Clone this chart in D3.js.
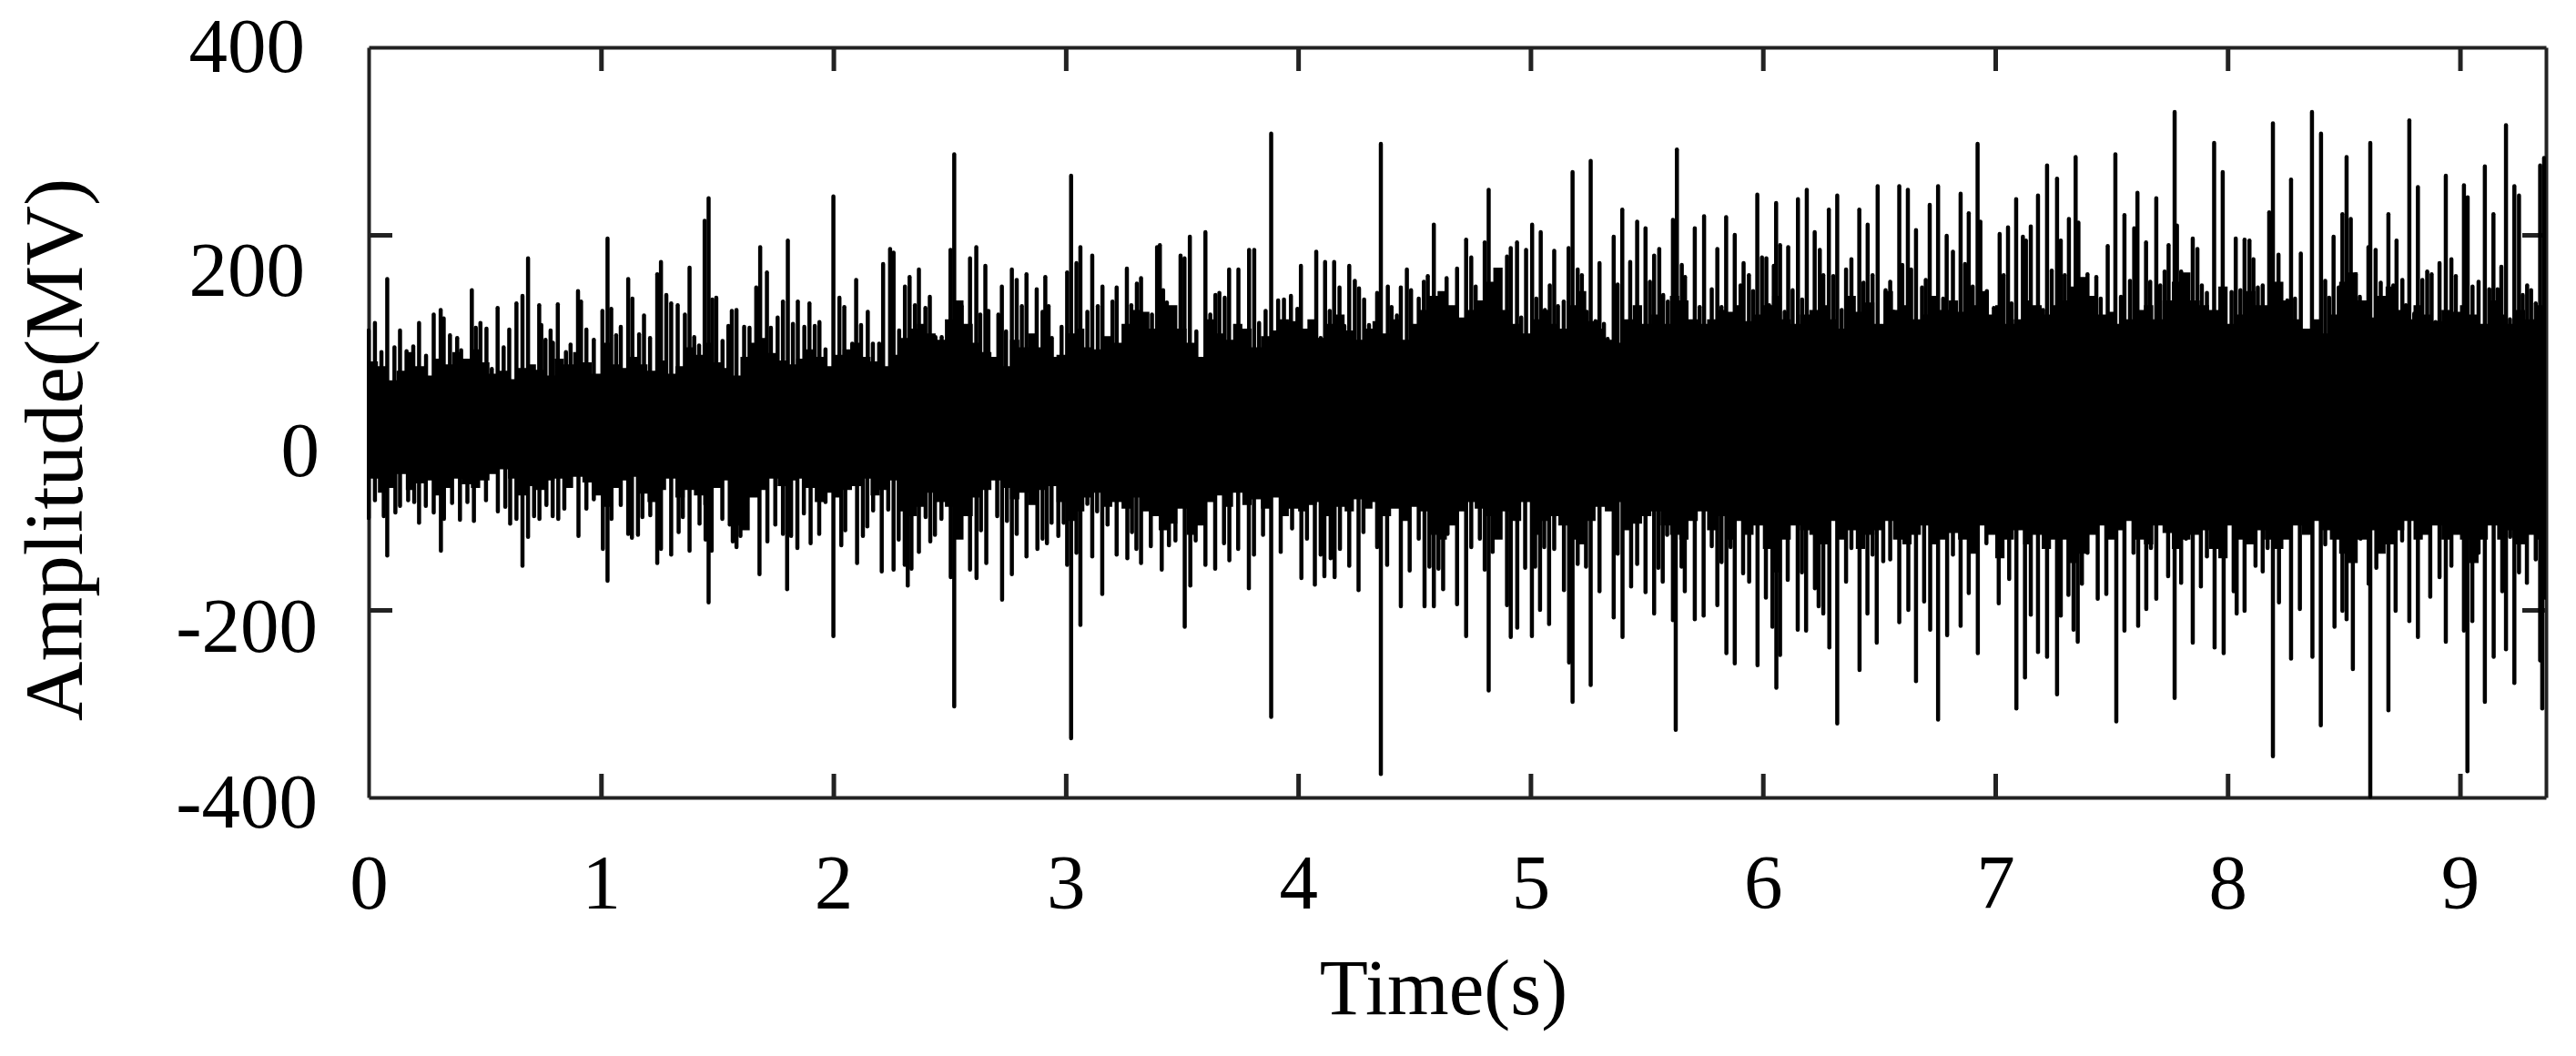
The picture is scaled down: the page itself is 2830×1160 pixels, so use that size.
<!DOCTYPE html>
<html>
<head>
<meta charset="utf-8">
<script src="https://cdn.jsdelivr.net/npm/d3@7/dist/d3.min.js"></script>
<style>
html,body{margin:0;padding:0;background:#fff;}
svg{display:block;}
text{font-family:"Liberation Serif",serif;fill:#000;}
</style>
</head>
<body>
<svg id="chart" width="2830" height="1160"></svg>
<script>
const xTicks = [0,1,2,3,4,5,6,7,8,9];
const yTicks = [400,200,0,-200,-400];
const xTitle = "Time(s)";
const yTitle = "Amplitude(MV)";
const timeMax = 9.37;

// Solid band of the signal, one reading every 0.04 s, one row per second
const bandStep = 0.04;
const bandTop = [
65,60,45,55,75,60,50,68,62,75,68,78,64,52,55,46,58,62,56,50,68,62,75,64,52,
85,62,58,70,62,55,66,52,60,80,72,85,64,58,50,70,85,90,74,66,62,68,78,70,60,
72,78,85,70,65,60,72,90,100,105,95,88,110,130,105,85,75,70,60,88,80,95,80,70,72,
95,100,80,78,92,85,105,120,118,100,115,125,100,85,70,110,95,88,105,100,80,92,98,110,108,
100,110,90,105,115,98,88,100,108,95,110,88,105,120,135,140,125,112,120,130,150,165,120,105,95,
110,120,105,100,125,140,108,100,88,85,110,125,105,115,105,135,130,110,105,110,120,118,125,108,115,
125,135,110,105,115,120,125,110,100,135,118,128,105,140,120,125,110,115,135,120,130,118,125,140,115,
125,105,110,130,125,115,125,130,145,155,135,115,118,105,110,120,125,110,130,150,160,130,125,120,145,
105,115,140,125,125,150,130,110,100,110,95,115,150,160,130,112,135,145,120,110,125,115,108,120,118,
125,115,105,130,115,105,120,110,125,135,135];
const bandBottom = [
-60,-75,-70,-55,-72,-65,-62,-78,-70,-60,-66,-70,-62,-55,-50,-60,-78,-68,-72,-62,-60,-70,-58,-64,-78,
-90,-70,-62,-58,-76,-85,-72,-60,-80,-72,-78,-88,-70,-62,-110,-115,-80,-72,-60,-68,-62,-60,-70,-85,-75,
-80,-72,-68,-60,-78,-72,-62,-95,-100,-90,-75,-85,-90,-125,-100,-80,-72,-62,-70,-82,-75,-88,-72,-68,-85,
-105,-95,-80,-75,-90,-85,-92,-80,-95,-100,-115,-108,-92,-120,-110,-85,-78,-90,-75,-88,-82,-92,-80,-100,-92,
-95,-88,-85,-100,-90,-95,-82,-92,-85,-100,-92,-105,-90,-95,-120,-125,-110,-95,-85,-92,-100,-125,-95,-105,-85,
-120,-105,-100,-110,-125,-130,-105,-90,-95,-85,-115,-108,-100,-95,-110,-120,-125,-105,-95,-115,-100,-125,-105,-120,-110,
-135,-160,-125,-110,-115,-120,-130,-105,-125,-115,-135,-120,-115,-105,-125,-130,-120,-110,-130,-125,-118,-125,-140,-110,-120,
-145,-125,-115,-130,-120,-135,-125,-125,-150,-140,-120,-110,-125,-115,-105,-125,-130,-110,-118,-135,-125,-120,-115,-135,-145,
-110,-125,-130,-115,-125,-135,-125,-110,-120,-105,-115,-125,-140,-150,-125,-115,-140,-130,-115,-105,-125,-120,-110,-125,-120,
-125,-150,-125,-110,-125,-115,-130,-120,-125,-115,-115];

// Positive peaks: [time, amplitude]
const upperPeaks = [
[0,98],[.027,106],[.055,75],[.08,153],[.111,80],[.135,98],[.163,76],[.192,81],[.217,106],[.247,71],[.28,115],[.31,120],[.323,111],[.35,93],[.381,90],[.398,77],[.444,141],[.461,101],[.481,106],[.507,100],[.53,57],[.555,122],[.581,80],[.605,99],[.636,127],[.662,135],[.686,175],[.734,125],[.743,104],[.761,88],[.783,98],[.793,85],[.814,126],[.849,75],[.869,83],[.901,140],[.914,129],[.937,99],[.969,88],[1.006,119],[1.028,196],[1.044,121],[1.065,93],[1.085,102],[1.117,153],[1.135,132],[1.164,94],[1.185,114],[1.211,90],[1.242,158],[1.258,171],[1.281,136],[1.302,127],[1.33,125],[1.361,115],[1.381,165],[1.401,91],[1.422,82],[1.446,215],[1.463,239],[1.479,131],[1.496,133],[1.523,87],[1.548,103],[1.563,119],[1.583,120],[1.616,102],
[1.639,101],[1.668,144],[1.685,187],[1.714,160],[1.731,101],[1.76,112],[1.783,129],[1.804,194],[1.826,105],[1.847,129],[1.875,102],[1.897,127],[1.92,103],[1.94,107],[1.966,78],[2,241],[2.026,133],[2.047,123],[2.081,84],[2.098,152],[2.119,104],[2.148,118],[2.17,84],[2.197,84],[2.214,169],[2.244,185],[2.259,181],[2.283,98],[2.308,145],[2.328,155],[2.351,125],[2.368,163],[2.396,122],[2.415,134],[2.439,91],[2.466,91],[2.504,184],[2.52,286],[2.552,124],[2.588,175],[2.615,187],[2.632,115],[2.654,167],[2.667,119],[2.687,65],[2.71,115],[2.725,145],[2.743,97],[2.768,163],[2.789,152],[2.811,124],[2.831,158],[2.854,70],[2.875,142],[2.9,118],[2.912,155],[2.926,124],[2.94,90],[2.982,102],[3.006,160],[3.023,263],[3.046,170],[3.063,187],[3.093,118],[3.114,178],[3.138,124],[3.158,145],[3.191,83],
[3.201,129],[3.219,144],[3.263,164],[3.282,125],[3.306,148],[3.324,154],[3.348,107],[3.371,115],[3.393,187],[3.405,189],[3.419,141],[3.435,128],[3.468,104],[3.494,178],[3.511,175],[3.534,198],[3.562,97],[3.601,203],[3.622,115],[3.644,136],[3.661,138],[3.684,133],[3.703,163],[3.743,163],[3.789,184],[3.811,184],[3.832,106],[3.86,119],[3.884,308],[3.914,130],[3.939,131],[3.969,135],[3.997,121],[4.012,167],[4.04,97],[4.078,182],[4.097,90],[4.116,171],[4.136,119],[4.155,171],[4.178,144],[4.199,103],[4.22,167],[4.244,151],[4.262,143],[4.284,131],[4.305,104],[4.319,90],[4.34,138],[4.356,297],[4.386,145],[4.402,123],[4.425,114],[4.442,144],[4.468,163],[4.486,141],[4.519,132],[4.541,150],[4.558,156],[4.584,211],[4.604,132],[4.617,123],[4.639,154],[4.663,111],[4.684,164],[4.723,195],[4.745,176],
[4.764,145],[4.782,118],[4.803,192],[4.82,248],[4.837,131],[4.85,128],[4.867,110],[4.899,177],[4.915,186],[4.942,192],[4.96,112],[4.981,184],[5.007,211],[5.025,132],[5.044,203],[5.062,120],[5.083,146],[5.102,183],[5.118,124],[5.143,129],[5.164,186],[5.181,267],[5.203,163],[5.221,157],[5.242,118],[5.259,279],[5.28,108],[5.297,170],[5.316,105],[5.332,89],[5.358,198],[5.375,147],[5.395,227],[5.429,171],[5.459,214],[5.495,207],[5.514,150],[5.532,178],[5.554,185],[5.571,136],[5.591,129],[5.613,216],[5.63,291],[5.651,168],[5.665,155],[5.689,102],[5.707,207],[5.728,123],[5.747,220],[5.78,142],[5.804,185],[5.822,123],[5.842,219],[5.861,103],[5.879,200],[5.904,146],[5.917,170],[5.94,157],[5.958,140],[5.976,243],[5.996,176],[6.015,175],[6.027,125],[6.047,167],[6.057,234],[6.074,189],[6.094,118],[6.109,187],[6.128,141],[6.151,238],[6.169,131],[6.189,248],[6.223,203],[6.245,184],[6.26,157],[6.284,227],[6.303,156],[6.32,242],
[6.339,120],[6.358,163],[6.381,174],[6.415,227],[6.433,149],[6.451,211],[6.472,157],[6.494,252],[6.528,141],[6.548,150],[6.563,118],[6.587,252],[6.6,168],[6.624,248],[6.638,163],[6.659,205],[6.685,144],[6.701,152],[6.718,232],[6.733,127],[6.754,252],[6.776,132],[6.791,199],[6.818,182],[6.851,244],[6.87,169],[6.886,223],[6.903,145],[6.924,297],[6.936,214],[6.964,140],[6.994,122],[7.019,201],[7.036,157],[7.055,208],[7.07,127],[7.09,238],[7.119,198],[7.132,194],[7.153,209],[7.184,242],[7.206,120],[7.223,274],[7.243,162],[7.266,260],[7.282,194],[7.299,157],[7.317,217],[7.346,283],[7.358,213],[7.373,151],[7.397,158],[7.435,155],[7.454,132],[7.484,188],[7.517,286],[7.541,134],[7.556,221],[7.58,151],[7.598,207],[7.612,245],[7.649,192],[7.667,150],[7.693,239],[7.71,146],[7.729,161],[7.746,189],[7.772,331],[7.782,210],[7.8,161],[7.817,128],[7.85,196],[7.87,185],[7.889,146],
[7.911,138],[7.942,298],[7.965,113],[7.979,267],[8,98],[8.017,139],[8.035,196],[8.055,141],[8.073,195],[8.094,194],[8.111,174],[8.13,144],[8.151,146],[8.179,224],[8.195,319],[8.219,179],[8.241,117],[8.257,130],[8.273,259],[8.29,132],[8.315,180],[8.342,96],[8.363,331],[8.381,96],[8.402,308],[8.42,151],[8.437,133],[8.456,198],[8.478,144],[8.494,222],[8.512,283],[8.53,217],[8.551,158],[8.569,134],[8.582,126],[8.606,187],[8.614,298],[8.637,184],[8.659,149],[8.692,222],[8.713,146],[8.727,194],[8.752,152],[8.767,125],[8.782,322],[8.803,116],[8.819,251],[8.838,152],[8.859,161],[8.878,158],[8.895,107],[8.912,170],[8.939,263],[8.963,174],[8.982,156],[9.017,253],[9.033,240],[9.054,145],[9.08,150],[9.107,273],[9.126,142],[9.144,222],[9.162,142],[9.178,166],[9.198,317],[9.215,110],[9.234,252],[9.254,242],[9.27,136],[9.289,146],[9.306,141],[9.326,127],[9.345,274],[9.362,282]
];

// Negative peaks: [time, amplitude]
const lowerPeaks = [
[0,-102],[.027,-83],[.065,-100],[.08,-142],[.115,-96],[.135,-89],[.17,-83],[.196,-85],[.217,-107],[.246,-89],[.28,-96],[.311,-137],[.324,-103],[.359,-86],[.393,-104],[.425,-85],[.453,-105],[.505,-83],[.556,-95],[.588,-90],[.609,-108],[.636,-103],[.662,-153],[.686,-122],[.712,-100],[.735,-103],[.765,-88],[.792,-100],[.816,-103],[.842,-92],[.903,-121],[.937,-92],[.969,-82],[1.008,-135],[1.028,-169],[1.045,-103],[1.085,-88],[1.117,-119],[1.133,-123],[1.159,-120],[1.178,-101],[1.212,-99],[1.242,-150],[1.258,-135],[1.302,-141],[1.334,-117],[1.352,-101],[1.381,-137],[1.424,-108],[1.45,-125],[1.463,-192],[1.476,-137],[1.522,-103],[1.554,-109],[1.567,-127],[1.583,-133],[1.6,-121],
[1.629,-82],[1.682,-162],[1.716,-127],[1.75,-109],[1.783,-119],[1.801,-178],[1.818,-121],[1.845,-134],[1.873,-97],[1.902,-129],[1.939,-119],[1.966,-85],[2,-228],[2.034,-131],[2.051,-115],[2.102,-150],[2.127,-121],[2.146,-111],[2.171,-94],[2.208,-159],[2.236,-93],[2.259,-157],[2.281,-125],[2.307,-152],[2.32,-174],[2.336,-156],[2.368,-138],[2.397,-101],[2.417,-127],[2.437,-120],[2.465,-103],[2.505,-165],[2.52,-303],[2.541,-119],[2.588,-157],[2.616,-166],[2.635,-115],[2.658,-150],[2.705,-100],[2.726,-189],[2.747,-105],[2.768,-162],[2.789,-119],[2.831,-143],[2.878,-135],[2.9,-124],[2.919,-129],[2.939,-107],[2.968,-121],[2.991,-107],[3.006,-152],[3.023,-337],[3.046,-139],[3.063,-216],[3.093,-87],[3.114,-143],[3.135,-95],[3.157,-183],[3.18,-109],
[3.219,-141],[3.265,-145],[3.285,-117],[3.304,-135],[3.324,-150],[3.366,-132],[3.413,-157],[3.444,-131],[3.472,-126],[3.512,-218],[3.536,-174],[3.559,-126],[3.601,-152],[3.643,-156],[3.681,-129],[3.704,-147],[3.742,-135],[3.788,-177],[3.81,-141],[3.849,-120],[3.884,-314],[3.925,-138],[3.974,-113],[4.014,-166],[4.038,-124],[4.072,-173],[4.097,-141],[4.113,-164],[4.14,-145],[4.157,-165],[4.18,-135],[4.22,-153],[4.26,-179],[4.281,-117],[4.34,-133],[4.356,-375],[4.383,-152],[4.442,-196],[4.48,-158],[4.519,-124],[4.544,-196],[4.565,-154],[4.584,-196],[4.604,-156],[4.624,-178],[4.643,-119],[4.684,-194],[4.723,-228],[4.745,-133],
[4.782,-124],[4.803,-157],[4.82,-286],[4.837,-138],[4.862,-115],[4.899,-195],[4.915,-229],[4.943,-219],[4.977,-155],[5.006,-228],[5.02,-154],[5.041,-200],[5.059,-133],[5.08,-215],[5.102,-135],[5.144,-179],[5.166,-256],[5.181,-298],[5.203,-151],[5.239,-154],[5.259,-280],[5.297,-180],[5.358,-208],[5.375,-140],[5.396,-229],[5.433,-175],[5.459,-151],[5.495,-181],[5.532,-204],[5.55,-155],[5.569,-170],[5.588,-120],[5.613,-211],[5.625,-328],[5.65,-154],[5.664,-180],[5.707,-210],[5.745,-206],[5.78,-132],[5.804,-195],[5.822,-149],[5.843,-246],[5.861,-133],[5.879,-257],[5.915,-161],[5.941,-170],[5.977,-259],[6.013,-187],[6.041,-218],[6.058,-283],[6.074,-248],[6.107,-168],[6.15,-221],[6.168,-160],[6.186,-222],[6.224,-177],[6.24,-196],[6.26,-204],[6.286,-240],[6.32,-321],
[6.358,-170],[6.381,-134],[6.416,-264],[6.45,-204],[6.472,-141],[6.49,-235],[6.518,-148],[6.548,-146],[6.587,-213],[6.626,-200],[6.659,-276],[6.694,-191],[6.72,-221],[6.754,-317],[6.793,-227],[6.818,-141],[6.851,-217],[6.886,-182],[6.925,-246],[6.962,-129],[7.015,-193],[7.06,-167],[7.091,-305],[7.128,-272],[7.153,-205],[7.184,-245],[7.223,-250],[7.266,-290],[7.282,-206],[7.315,-184],[7.337,-221],[7.355,-234],[7.373,-172],[7.397,-139],[7.441,-188],[7.478,-183],[7.521,-319],[7.556,-222],[7.595,-139],[7.615,-217],[7.65,-199],[7.67,-134],[7.693,-188],[7.744,-164],[7.772,-294],[7.8,-171],[7.821,-124],[7.85,-235],[7.885,-175],
[7.911,-143],[7.944,-240],[7.983,-246],[8.026,-180],[8.039,-204],[8.073,-201],[8.091,-126],[8.12,-153],[8.151,-159],[8.172,-134],[8.195,-356],[8.221,-192],[8.273,-252],[8.311,-199],[8.365,-250],[8.401,-323],[8.42,-130],[8.46,-218],[8.494,-201],[8.512,-210],[8.539,-263],[8.572,-124],[8.607,-172],[8.614,-399],[8.64,-155],[8.692,-307],[8.723,-201],[8.751,-126],[8.782,-212],[8.819,-229],[8.872,-186],[8.912,-165],[8.939,-234],[8.963,-153],[9.017,-222],[9.032,-372],[9.053,-212],[9.08,-139],[9.107,-298],[9.145,-250],[9.182,-180],[9.198,-242],[9.216,-122],[9.234,-278],[9.254,-160],[9.288,-171],[9.326,-146],[9.345,-254],[9.354,-305],[9.367,-187]
];

const svg = d3.select("#chart");
const plot = {left:405, right:2797, top:52, bottom:876};
const ink = "#222";
const x = d3.scaleLinear().domain([0,timeMax]).range([plot.left,plot.right]);
const y = d3.scaleLinear().domain([-400,400]).range([plot.bottom,plot.top]);
const fontSize = 85;

// Frame and inward ticks
function styleAxis(g){
  g.selectAll("path.domain").attr("stroke",ink).attr("stroke-width",4);
  g.selectAll(".tick line").attr("stroke",ink).attr("stroke-width",5);
}
const bottomAxis = svg.append("g").attr("transform",`translate(0,${plot.bottom})`)
  .call(d3.axisBottom(x).tickValues(xTicks).tickSize(-26).tickSizeOuter(0).tickPadding(0).tickFormat(d3.format("d")));
const topAxis = svg.append("g").attr("transform",`translate(0,${plot.top})`)
  .call(d3.axisTop(x).tickValues(xTicks.slice(1)).tickSize(-26).tickSizeOuter(0).tickFormat(""));
const leftAxis = svg.append("g").attr("transform",`translate(${plot.left},0)`)
  .call(d3.axisLeft(y).tickValues(yTicks.slice(1,4)).tickSize(-26).tickSizeOuter(0).tickFormat(""));
const rightAxis = svg.append("g").attr("transform",`translate(${plot.right},0)`)
  .call(d3.axisRight(y).tickValues(yTicks.slice(1,4)).tickSize(-26).tickSizeOuter(0).tickFormat(""));
[bottomAxis,topAxis,leftAxis,rightAxis].forEach(styleAxis);
bottomAxis.selectAll(".tick").filter(d => d===0).select("line").remove();

// Tick labels
bottomAxis.selectAll(".tick text")
  .attr("font-size",fontSize).attr("text-anchor","middle")
  .attr("dy",null).attr("y",998-plot.bottom);

const yLabelRight = {"400":335,"200":335,"0":351,"-200":349,"-400":349};
const yLabelBase = {"400":79,"200":325,"0":523,"-200":716,"-400":909};
svg.append("g").selectAll("text").data(yTicks).join("text")
  .attr("x",d => yLabelRight[d]).attr("y",d => yLabelBase[d])
  .attr("text-anchor","end").attr("font-size",fontSize).text(d => d);

// Titles
svg.append("text").attr("x",1586).attr("y",1114).attr("text-anchor","middle")
  .attr("font-size",87).text(xTitle);
svg.append("text").attr("transform","translate(90,494) rotate(-90)").attr("text-anchor","middle")
  .attr("font-size",91).text(yTitle);

// Signal
const clipId = "plot-clip";
svg.append("clipPath").attr("id",clipId).append("rect")
  .attr("x",plot.left-2).attr("y",plot.top).attr("width",plot.right-plot.left+2).attr("height",plot.bottom-plot.top+2);
const signal = svg.append("g").attr("clip-path",`url(#${clipId})`);

const band = d3.area()
  .curve(d3.curveStepAfter)
  .x((d,i)=>x(Math.min(i*bandStep,timeMax)))
  .y0((d,i)=>y(bandBottom[i]))
  .y1(d=>y(d));
signal.append("path").datum(bandTop).attr("d",band).attr("fill","#000");

const peaks = upperPeaks.concat(lowerPeaks);
signal.append("g").selectAll("line").data(peaks).join("line")
  .attr("x1",d=>x(d[0])).attr("x2",d=>x(d[0]))
  .attr("y1",y(0)).attr("y2",d=>y(d[1]))
  .attr("stroke","#000").attr("stroke-width",4.5).attr("stroke-linecap","round");
</script>
</body>
</html>
